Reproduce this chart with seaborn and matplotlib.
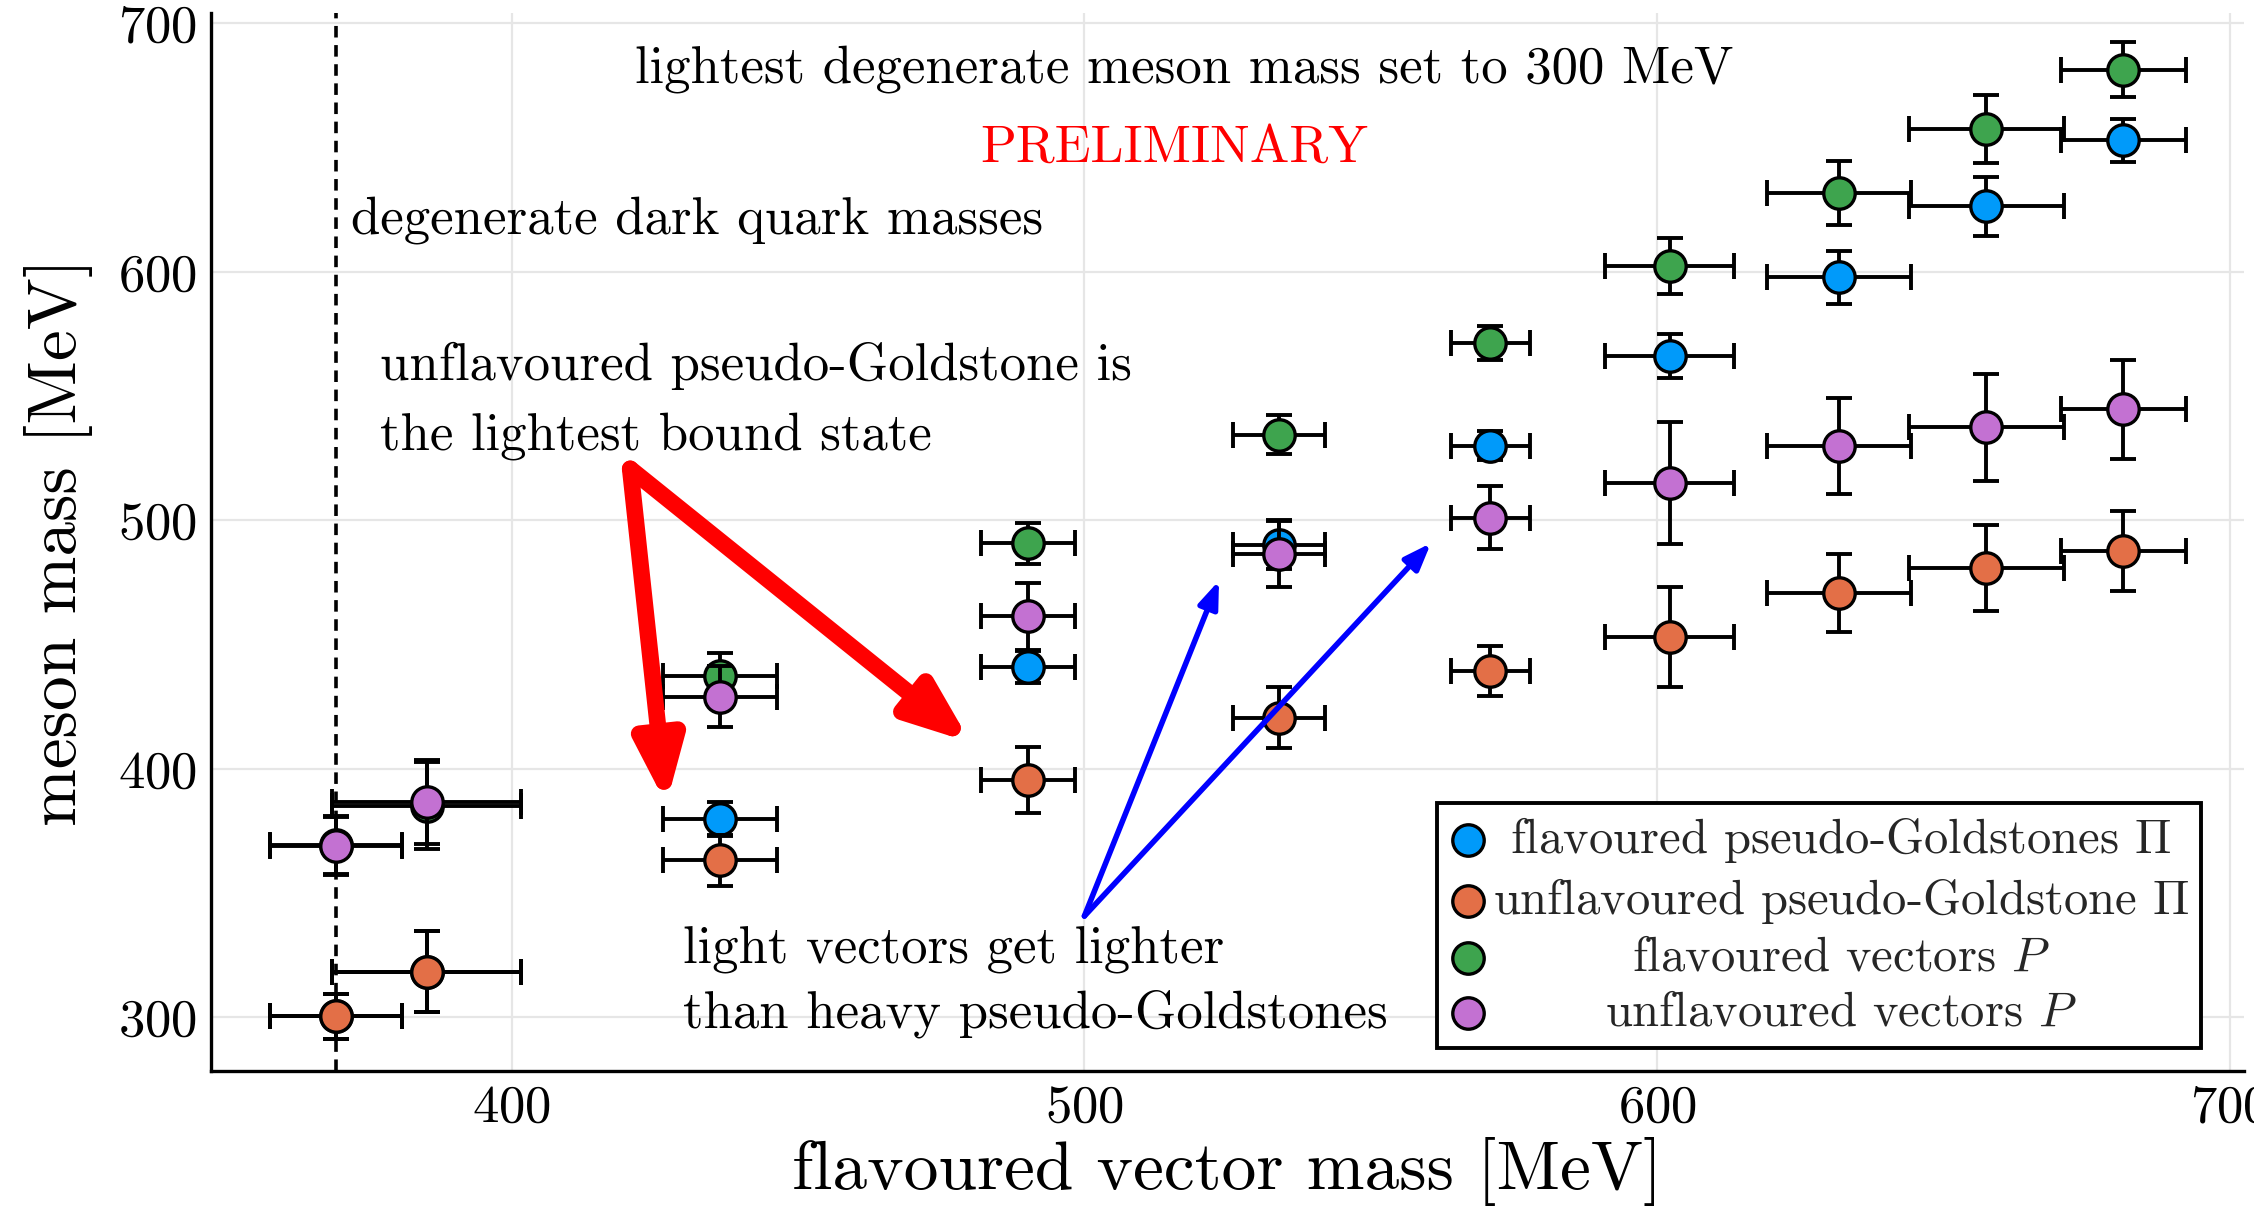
import matplotlib
matplotlib.use("Agg")
import matplotlib.pyplot as plt
import pandas as pd
import seaborn as sns

# flavoured vector mass (x axis) per ensemble, MeV
x_mass = [369.3, 385.2, 436.4, 490.2, 534.0, 570.9, 602.2, 631.8, 657.5, 681.4]
x_err = [11.5, 16.5, 9.9, 8.2, 8.0, 6.9, 11.3, 12.6, 13.5, 10.9]

# meson masses, MeV
pi_flav = [300.3, 318.2, 379.8, 440.9, 490.0, 530.0, 566.0, 597.8, 626.3, 652.9]
pi_flav_err = [9.0, 16.3, 6.8, 6.4, 9.7, 5.8, 8.9, 10.6, 12.0, 8.7]
pi_unflav = [300.3, 318.2, 363.2, 395.4, 420.5, 439.2, 453.1, 470.6, 480.8, 487.7]
pi_unflav_err = [9.0, 16.3, 10.2, 13.4, 12.3, 10.0, 20.2, 15.7, 17.3, 16.0]
rho_flav = [369.3, 385.2, 437.2, 490.8, 534.4, 571.3, 602.2, 631.7, 657.5, 681.4]
rho_flav_err = [11.6, 17.4, 9.5, 8.2, 7.9, 6.7, 11.3, 12.8, 13.7, 11.0]
rho_unflav = [368.8, 386.6, 429.0, 461.3, 486.6, 501.1, 515.0, 530.0, 537.4, 544.7]
rho_unflav_err = [11.6, 17.0, 12.2, 13.6, 13.6, 12.5, 24.5, 19.3, 21.4, 20.0]

labels = [
    r"flavoured pseudo-Goldstones $\Pi$",
    r"unflavoured pseudo-Goldstone $\Pi$",
    r"flavoured vectors $P$",
    r"unflavoured vectors $P$",
]
colors = ["#009AFA", "#E36F47", "#3EA44E", "#C371D2"]

series = [
    (pi_flav, pi_flav_err),
    (pi_unflav, pi_unflav_err),
    (rho_flav, rho_flav_err),
    (rho_unflav, rho_unflav_err),
]

sns.set_theme(style="white")
plt.rcParams["font.family"] = ["cmr10", "DejaVu Serif"]
plt.rcParams["mathtext.fontset"] = "cm"
plt.rcParams["axes.formatter.use_mathtext"] = True

fig = plt.figure(figsize=(11.27, 6.05), dpi=200)
ax = fig.add_axes([0.0936, 0.1152, 0.9018, 0.8737])

for i, ((y, yerr), lab, col) in enumerate(zip(series, labels, colors)):
    df = pd.DataFrame({"x": x_mass, "xerr": x_err, "y": y, "yerr": yerr})
    ax.errorbar(df["x"], df["y"], xerr=df["xerr"], yerr=df["yerr"], fmt="none",
                ecolor="black", elinewidth=1.4, capsize=4.8, capthick=1.4,
                zorder=3 + 2 * i)
    sns.scatterplot(data=df, x="x", y="y", ax=ax, color=col, s=128,
                    edgecolor="black", linewidth=1.2, label=lab,
                    zorder=4 + 2 * i)

# degenerate point
ax.axvline(x_mass[0], color="black", lw=1.3, dashes=(3.2, 2.1), zorder=2)

ax.set_xlim(347.5, 702.4)
ax.set_ylim(278.5, 704)
ax.set_xticks([400, 500, 600, 700])
ax.set_yticks([300, 400, 500, 600, 700])
ax.grid(True, color="#e6e6e6", lw=0.8)
ax.set_axisbelow(True)
for s in ["top", "right"]:
    ax.spines[s].set_visible(False)
for s in ["left", "bottom"]:
    ax.spines[s].set_color("black")
    ax.spines[s].set_linewidth(1.2)
ax.tick_params(direction="in", length=4, width=0.5, labelsize=19, pad=5,
               color="black", labelcolor="black")
ax.set_xlabel("flavoured vector mass [MeV]", fontsize=25, labelpad=2, color="black")
ax.set_ylabel("meson mass [MeV]", fontsize=25, labelpad=9, color="black")

txt = dict(fontsize=19, color="black")
ax.text(517.4, 681.5, "lightest degenerate meson mass set to 300 MeV",
        ha="center", va="center", **txt)
ax.text(515.6, 649.7, "PRELIMINARY", ha="center", va="center",
        fontsize=19, color="red")
ax.text(372.0, 620.8, "degenerate dark quark masses", ha="left", va="center", **txt)
ax.text(377.0, 548.0, "unflavoured pseudo-Goldstone is\nthe lightest bound state",
        ha="left", va="center", linespacing=1.6, **txt)
ax.text(430.0, 314.0, "light vectors get lighter\nthan heavy pseudo-Goldstones",
        ha="left", va="center", linespacing=1.4, **txt)

red = dict(arrowstyle="-|>,head_length=18,head_width=7", color="red", lw=6,
           mutation_scale=1, shrinkA=0, shrinkB=0)
ax.annotate("", xy=(427.0, 385.7), xytext=(420.7, 520.7), arrowprops=red, zorder=20)
ax.annotate("", xy=(480.1, 410.6), xytext=(420.7, 520.7), arrowprops=red, zorder=20)
blue = dict(arrowstyle="-|>,head_length=8,head_width=3", color="blue", lw=2,
            mutation_scale=1, shrinkA=0, shrinkB=0)
ax.annotate("", xy=(523.5, 475.7), xytext=(500.0, 340.7), arrowprops=blue, zorder=20)
ax.annotate("", xy=(560.5, 490.8), xytext=(500.0, 340.7), arrowprops=blue, zorder=20)

leg = ax.legend(loc="lower right", bbox_to_anchor=(0.979, 0.0218), borderaxespad=0,
                fontsize=17.5, frameon=True, fancybox=False, edgecolor="black",
                framealpha=1, handletextpad=0.1, labelspacing=0.22,
                borderpad=0.25, handlelength=0.8, markerscale=1.0)
leg.get_frame().set_linewidth(1.4)
leg.set_zorder(30)

# center legend texts as in the original
fig.canvas.draw()
r = fig.canvas.get_renderer()
widths = [t.get_window_extent(r).width for t in leg.get_texts()]
wmax = max(widths)
for t, w in zip(leg.get_texts(), widths):
    t.set_position(((wmax - w) / 2, 0))

fig.savefig("out.png", dpi=200)
